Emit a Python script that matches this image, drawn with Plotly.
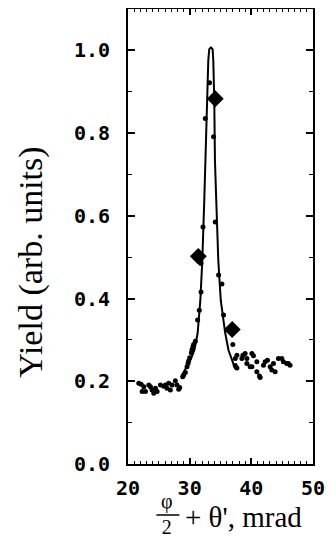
import plotly.graph_objects as go

# measured yield (small dots)
data_x = [21.75, 22.13, 22.3, 22.56, 22.83, 23.37, 23.64, 23.9, 24.18, 24.45, 24.72, 25.26, 25.8,
          26.07, 26.33, 26.6, 26.87, 27.15, 27.68, 27.95, 28.22, 28.38, 28.87, 29.03, 29.3, 29.57,
          29.73, 29.83, 30.0, 30.27, 30.38, 30.54, 30.65, 30.92, 31.29, 31.56, 31.84, 31.84, 32.16,
          32.53, 33.23, 33.88, 34.15, 34.69, 35.23, 35.5, 37.0, 37.39, 37.39, 37.66, 37.66, 38.47,
          38.63, 39.0, 39.28, 39.28, 39.81, 40.09, 40.35, 40.09, 40.89, 40.89, 41.32, 41.43, 41.97,
          42.24, 42.62, 43.05, 43.32, 43.59, 43.86, 44.39, 44.94, 45.2, 45.75, 46.0, 46.28]
data_y = [0.195, 0.193, 0.175, 0.187, 0.175, 0.191, 0.187, 0.179, 0.171, 0.183, 0.175, 0.191, 0.188,
          0.191, 0.183, 0.195, 0.179, 0.191, 0.201, 0.191, 0.181, 0.185, 0.211, 0.215, 0.221, 0.235,
          0.243, 0.249, 0.257, 0.269, 0.277, 0.284, 0.289, 0.297, 0.348, 0.372, 0.416, 0.485, 0.573,
          0.835, 0.922, 0.791, 0.585, 0.457, 0.435, 0.36, 0.289, 0.255, 0.238, 0.232, 0.263, 0.255,
          0.263, 0.267, 0.243, 0.255, 0.235, 0.267, 0.262, 0.235, 0.247, 0.223, 0.213, 0.209, 0.239,
          0.247, 0.251, 0.235, 0.227, 0.243, 0.223, 0.255, 0.255, 0.247, 0.243, 0.243, 0.239]

# large diamonds
big_x = [31.4, 34.15, 36.9]
big_y = [0.502, 0.883, 0.325]

# calculated curve
curve_x = [28.77, 30.11, 30.76, 31.29, 31.73, 32.05, 32.37, 32.53, 32.81, 33.02, 33.18, 33.45,
           33.72, 33.83, 33.99, 34.10, 34.31, 34.64, 35.04, 35.77, 36.30, 36.85, 37.39]
curve_y = [0.215, 0.251, 0.275, 0.316, 0.396, 0.493, 0.638, 0.734, 0.879, 0.976, 1.003, 1.007,
           1.003, 0.976, 0.879, 0.734, 0.638, 0.493, 0.396, 0.316, 0.275, 0.251, 0.230]

x_ticks = [20, 30, 40, 50]
y_ticks = [0.0, 0.2, 0.4, 0.6, 0.8, 1.0]

fig = go.Figure()
fig.add_trace(go.Scatter(x=curve_x, y=curve_y, mode="lines",
                         line=dict(color="black", width=2), showlegend=False))
fig.add_trace(go.Scatter(x=data_x, y=data_y, mode="markers",
                         marker=dict(color="black", size=5, symbol="circle"), showlegend=False))
fig.add_trace(go.Scatter(x=big_x, y=big_y, mode="markers",
                         marker=dict(color="black", size=13, symbol="diamond"), showlegend=False))

# page body has an 8px margin, so the figure is drawn 8px in from the window corner
OFF = 8
W, H = 333 - OFF, 542 - OFF
L, R, T, B = 119.5, 20, 1, 78
pw, ph = W - L - R, H - T - B

def px(xp):
    return (xp - OFF - L) / pw

def py(yp):
    return (H - B - (yp - OFF)) / ph

tickfont = dict(family="DejaVu Sans Mono", size=20, color="black", weight="bold")
fig.update_layout(
    width=W, height=H,
    margin=dict(l=L, r=R, t=T, b=B, autoexpand=False),
    plot_bgcolor="white", paper_bgcolor="white",
    xaxis=dict(range=[20, 50], tickvals=x_ticks, ticktext=[str(v) for v in x_ticks],
               ticks="inside", ticklen=6, tickwidth=1.5, tickcolor="black",
               minor=dict(dtick=1, ticks="inside", ticklen=3, tickcolor="black", tickwidth=1),
               showline=True, linecolor="black", linewidth=2, mirror="ticks",
               showgrid=False, zeroline=False, tickfont=tickfont, ticklabelstandoff=5,
               automargin=False),
    yaxis=dict(range=[0, 1.1], tickvals=y_ticks, ticktext=["%.1f" % v for v in y_ticks],
               ticks="inside", ticklen=7, tickwidth=1.5, tickcolor="black",
               minor=dict(dtick=0.1, ticks="inside", ticklen=4, tickcolor="black", tickwidth=1),
               showline=True, linecolor="black", linewidth=2, mirror="ticks",
               showgrid=False, zeroline=False, tickfont=tickfont, ticklabelstandoff=12,
               automargin=False),
)

serif = "Liberation Serif"
fig.add_annotation(text="Yield (arb. units)", xref="paper", yref="paper",
                   x=px(30), y=py(262), xanchor="center", yanchor="middle",
                   textangle=-90, showarrow=False,
                   font=dict(family=serif, size=34, color="black"))
# stacked fraction phi / 2 as one text block
fig.add_annotation(text="φ<br>2", xref="paper", yref="paper", x=px(167), y=py(514),
                   xanchor="center", yanchor="middle", showarrow=False, borderpad=0,
                   font=dict(family=serif, size=20, color="black"))
fig.add_shape(type="line", xref="paper", yref="paper", x0=px(156), x1=px(179),
              y0=py(515), y1=py(515), line=dict(color="black", width=1.5))
fig.add_annotation(text="+ θ', mrad", xref="paper", yref="paper", x=px(183), y=py(517),
                   xanchor="left", yanchor="middle", showarrow=False,
                   font=dict(family=serif, size=29, color="black"))

fig.write_html("out.html")
